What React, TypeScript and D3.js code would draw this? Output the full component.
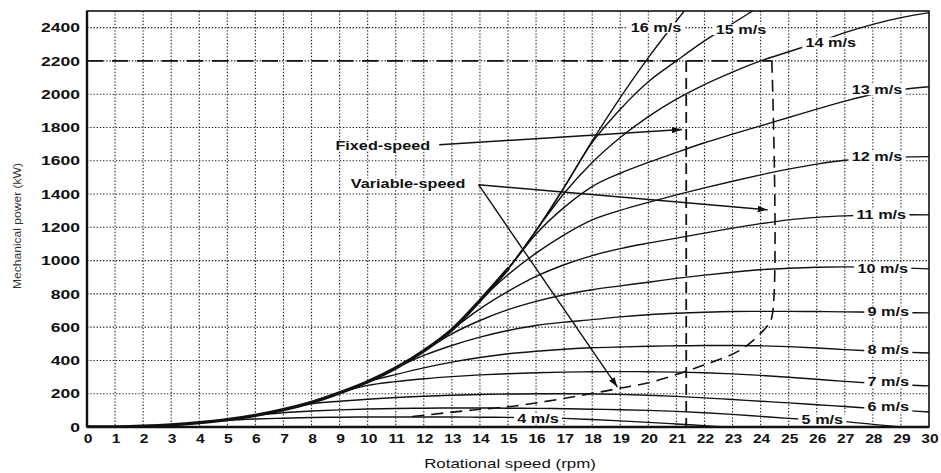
import React, { useEffect, useRef } from 'react';
import * as d3 from 'd3';

// axis tick labels
const rpmTicks = [0, 1, 2, 3, 4, 5, 6, 7, 8, 9, 10, 11, 12, 13, 14, 15, 16, 17, 18, 19, 20, 21, 22, 23, 24, 25, 26, 27, 28, 29, 30];
const powerTicks = [0, 200, 400, 600, 800, 1000, 1200, 1400, 1600, 1800, 2000, 2200, 2400];

// shared low-speed part of all curves (also the 16 m/s curve), [rpm, kW]
const envelope: [number, number][] = [
  [0, 0], [1, 1], [2, 5], [3, 13], [4, 26], [5, 44], [6, 70], [7, 104], [8, 148], [9, 205], [10, 272],
  [11, 355], [12, 458], [13, 585], [14, 760], [15, 950], [16, 1180], [17, 1440], [18, 1720], [19, 1980],
  [20, 2220], [21, 2440], [22, 2650]
];

// branches leaving the envelope, one per wind speed
const tail4: [number, number][] = [[5, 40], [6, 48], [7, 53], [8, 57], [9, 59], [10, 60], [11, 60], [12, 60], [13, 60], [14, 59], [15, 58], [16, 56], [17, 52], [18, 45], [19, 37], [20, 28], [21, 18], [22, 8], [22.8, 0]];
const tail5: [number, number][] = [[7, 86], [8, 96], [9, 103], [10, 108], [11, 111], [12, 113], [13, 114], [14, 114], [15, 113], [16, 112], [17, 110], [18, 107], [19, 104], [20, 100], [21, 94], [22, 86], [23, 76], [24, 64], [25, 52], [26, 42], [27, 32], [28, 16], [29, 0]];
const tail6: [number, number][] = [[8, 140], [9, 155], [10, 167], [11, 177], [12, 185], [13, 191], [14, 195], [15, 198], [16, 200], [17, 200], [18, 199], [19, 196], [20, 191], [21, 184], [22, 175], [23, 165], [24, 155], [25, 145], [26, 134], [27, 123], [28, 112], [29, 101], [30, 90]];
const tail7: [number, number][] = [[10, 250], [11, 273], [12, 290], [13, 303], [14, 313], [15, 320], [16, 326], [17, 330], [18, 332], [19, 333], [20, 332], [21, 330], [22, 326], [23, 319], [24, 310], [25, 299], [26, 287], [27, 274], [28, 263], [29, 254], [30, 247]];
const tail8: [number, number][] = [[11, 315], [12, 355], [13, 390], [14, 418], [15, 440], [16, 455], [17, 467], [18, 476], [19, 481], [20, 485], [21, 488], [22, 490], [23, 490], [24, 488], [25, 483], [26, 475], [27, 465], [28, 457], [29, 450], [30, 445]];
const tail9: [number, number][] = [[12, 430], [13, 490], [14, 540], [15, 580], [16, 610], [17, 630], [18, 645], [19, 662], [20, 675], [21, 684], [22, 690], [23, 694], [24, 695], [25, 695], [26, 694], [27, 692], [28, 690], [29, 688], [30, 686]];
const tail10: [number, number][] = [[13, 560], [14, 640], [15, 705], [16, 755], [17, 795], [18, 825], [19, 848], [20, 870], [21, 893], [22, 913], [23, 930], [24, 945], [25, 954], [26, 960], [27, 962], [28, 960], [29, 956], [30, 950]];
const tail11: [number, number][] = [[14, 710], [15, 815], [16, 905], [17, 975], [18, 1030], [19, 1072], [20, 1105], [21, 1135], [22, 1165], [23, 1195], [24, 1222], [25, 1245], [26, 1260], [27, 1269], [28, 1274], [29, 1276], [30, 1275]];
const tail12: [number, number][] = [[15, 915], [16, 1045], [17, 1155], [18, 1245], [19, 1302], [20, 1350], [21, 1395], [22, 1437], [23, 1477], [24, 1515], [25, 1550], [26, 1580], [27, 1603], [28, 1615], [29, 1622], [30, 1625]];
const tail13: [number, number][] = [[16, 1160], [17, 1320], [18, 1445], [19, 1525], [20, 1590], [21, 1650], [22, 1708], [23, 1760], [24, 1810], [25, 1860], [26, 1910], [27, 1958], [28, 2000], [29, 2027], [30, 2045]];
const tail14: [number, number][] = [[17, 1405], [18, 1590], [19, 1740], [20, 1865], [21, 1970], [22, 2058], [23, 2133], [24, 2200], [25, 2255], [26, 2310], [27, 2370], [28, 2420], [29, 2460], [30, 2490]];
const tail15: [number, number][] = [[18, 1710], [19, 1910], [20, 2075], [21, 2200], [22, 2320], [23, 2425], [24, 2530]];

// where each curve label sits, [text, rpm, kW]
const curveLabels: [string, number, number][] = [
  ['4 m/s', 16.07, 48], ['5 m/s', 26.2, 42], ['6 m/s', 28.55, 120], ['7 m/s', 28.55, 271],
  ['8 m/s', 28.55, 463], ['9 m/s', 28.55, 692], ['10 m/s', 28.35, 950], ['11 m/s', 28.3, 1275],
  ['12 m/s', 28.15, 1624], ['13 m/s', 28.15, 2027], ['14 m/s', 26.5, 2310], ['15 m/s', 23.3, 2388],
  ['16 m/s', 20.27, 2400]
];

// operating strategies
const ratedLine: [number, number][] = [[0, 2200], [24.4, 2200]];
const fixedSpeed: [number, number][] = [[21.35, 2200], [21.35, 0]];
const variableSpeed: [number, number][] = [
  [24.4, 2200], [24.4, 660], [24.2, 600], [23.3, 465], [21.8, 362], [20.1, 270], [19, 234],
  [18.3, 211], [15.5, 132], [13.75, 102], [11.4, 60]
];

// annotation arrows, [fromRpm, fromKw, toRpm, toKw]
const arrows: [number, number, number, number][] = [
  [12.55, 1696, 21.2, 1788],
  [13.95, 1456, 24.25, 1305],
  [13.95, 1456, 18.9, 240]
];

const App = () => {
  const ref = useRef<SVGSVGElement>(null);

  useEffect(() => {
    const width = 941, height = 473;
    const m = { left: 87, right: 929, top: 11, bottom: 427 };
    const font = '"Liberation Sans", Arial, sans-serif';
    const svg = d3.select(ref.current);
    svg.selectAll('*').remove();

    const x = d3.scaleLinear().domain([0, 30]).range([m.left, m.right]);
    const y = d3.scaleLinear().domain([0, 2500]).range([m.bottom, m.top]);

    svg.append('defs').append('clipPath').attr('id', 'plot')
      .append('rect').attr('x', m.left).attr('y', m.top)
      .attr('width', m.right - m.left).attr('height', m.bottom - m.top);
    const marker = svg.select('defs').append('marker')
      .attr('id', 'head').attr('viewBox', '0 -4 10 8').attr('refX', 10).attr('refY', 0)
      .attr('markerWidth', 10).attr('markerHeight', 8).attr('markerUnits', 'userSpaceOnUse')
      .attr('orient', 'auto');
    marker.append('path').attr('d', 'M0,-3.2L10,0L0,3.2Z').attr('fill', '#111');

    // dotted grid
    const grid = svg.append('g').attr('stroke', '#222').attr('stroke-width', 1.1).attr('stroke-dasharray', '1.4,1.8');
    grid.selectAll('line.v').data(rpmTicks.slice(1, -1)).join('line')
      .attr('x1', d => x(d)).attr('x2', d => x(d)).attr('y1', m.top).attr('y2', m.bottom);
    grid.selectAll('line.h').data(powerTicks.slice(1)).join('line')
      .attr('class', 'h')
      .attr('x1', m.left).attr('x2', m.right).attr('y1', d => y(d)).attr('y2', d => y(d));

    const plot = svg.append('g').attr('clip-path', 'url(#plot)');
    const line = d3.line<[number, number]>().x(d => x(d[0])).y(d => y(d[1])).curve(d3.curveMonotoneX);
    const straight = d3.line<[number, number]>().x(d => x(d[0])).y(d => y(d[1]));
    const smooth = d3.line<[number, number]>().x(d => x(d[0])).y(d => y(d[1])).curve(d3.curveCatmullRom.alpha(0.5));

    // dashed strategy lines
    plot.append('path').attr('d', straight(ratedLine)!).attr('fill', 'none').attr('stroke', '#111')
      .attr('stroke-width', 1.6).attr('stroke-dasharray', '16,9');
    plot.append('path').attr('d', straight(fixedSpeed)!).attr('fill', 'none').attr('stroke', '#111')
      .attr('stroke-width', 1.8).attr('stroke-dasharray', '11,6');
    plot.append('path').attr('d', smooth(variableSpeed)!).attr('fill', 'none').attr('stroke', '#111')
      .attr('stroke-width', 1.6).attr('stroke-dasharray', '12,7');

    const curves: [number, number][][] = [
      envelope.slice(0, 5).concat(tail4),
      envelope.slice(0, 7).concat(tail5),
      envelope.slice(0, 8).concat(tail6),
      envelope.slice(0, 10).concat(tail7),
      envelope.slice(0, 11).concat(tail8),
      envelope.slice(0, 12).concat(tail9),
      envelope.slice(0, 13).concat(tail10),
      envelope.slice(0, 14).concat(tail11),
      envelope.slice(0, 15).concat(tail12),
      envelope.slice(0, 16).concat(tail13),
      envelope.slice(0, 17).concat(tail14),
      envelope.slice(0, 18).concat(tail15),
      envelope
    ];
    plot.selectAll('path.curve').data(curves).join('path')
      .attr('class', 'curve').attr('d', d => line(d)!)
      .attr('fill', 'none').attr('stroke', '#111').attr('stroke-width', 1.4);

    // the overlapping bundle reads as one heavy line
    plot.append('path').attr('d', line(envelope.filter(d => d[0] <= 15))!)
      .attr('fill', 'none').attr('stroke', '#111').attr('stroke-width', 3.4).attr('stroke-linecap', 'round');

    const addText = (parent: any, px: number, py: number, text: string, opts: any = {}) => {
      const g = parent.append('g').attr('transform', `translate(${px},${py}) ${opts.rotate ? 'rotate(-90)' : ''} scale(${opts.sx ?? 1.3},1)`);
      const t = g.append('text')
        .attr('font-family', font).attr('font-size', opts.size ?? 12.5)
        .attr('font-weight', opts.weight ?? 'bold').attr('fill', opts.color ?? '#111')
        .attr('text-anchor', opts.anchor ?? 'middle').attr('dy', '0.35em').text(text);
      if (opts.bg) {
        const b = (t.node() as SVGTextElement).getBBox();
        g.insert('rect', 'text').attr('x', b.x - 2.5).attr('y', b.y + 1.5)
          .attr('width', b.width + 5).attr('height', b.height - 3).attr('fill', '#fff');
      }
      return g;
    };

    curveLabels.forEach(([t, r, p]) => addText(svg, x(r), y(p), t, { bg: true }));

    // annotation arrows and their labels
    svg.selectAll('line.arrow').data(arrows).join('line')
      .attr('class', 'arrow')
      .attr('x1', d => x(d[0])).attr('y1', d => y(d[1])).attr('x2', d => x(d[2])).attr('y2', d => y(d[3]))
      .attr('stroke', '#111').attr('stroke-width', 1.4).attr('marker-end', 'url(#head)');
    addText(svg, x(8.85), y(1690), 'Fixed-speed', { anchor: 'start', bg: true });
    addText(svg, x(9.4), y(1462), 'Variable-speed', { anchor: 'start', bg: true });

    // frame
    svg.append('rect').attr('x', m.left).attr('y', m.top).attr('width', m.right - m.left)
      .attr('height', m.bottom - m.top).attr('fill', 'none').attr('stroke', '#111').attr('stroke-width', 1.6);
    svg.append('line').attr('x1', m.left).attr('x2', m.right).attr('y1', m.bottom).attr('y2', m.bottom)
      .attr('stroke', '#111').attr('stroke-width', 2.4);
    svg.append('line').attr('x1', m.left).attr('x2', m.left).attr('y1', m.top).attr('y2', m.bottom)
      .attr('stroke', '#111').attr('stroke-width', 2.4);

    // tick labels
    powerTicks.forEach(t => addText(svg, 80, y(t), String(t), { anchor: 'end', size: 13.5 }));
    rpmTicks.forEach(t => addText(svg, x(t) + 1, 439, String(t), { size: 12.5, sx: 1.25 }));

    addText(svg, 510, 463, 'Rotational speed (rpm)', { size: 13, weight: 'normal' });
    addText(svg, 17, 226, 'Mechanical power (kW)', { size: 11.5, weight: 'normal', rotate: true, sx: 1.05, color: '#333' });

    svg.attr('width', width).attr('height', height);
  }, []);

  return (
    <svg ref={ref} width={941} height={473} style={{ position: 'absolute', left: 0, top: 0, background: '#fff' }} />
  );
};

export default App;
